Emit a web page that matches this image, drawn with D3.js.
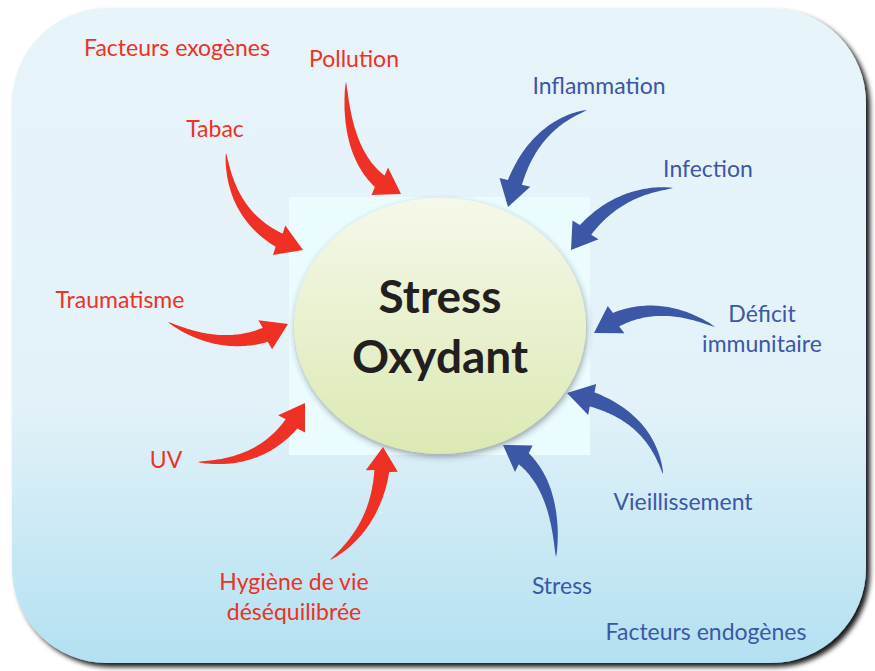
<!DOCTYPE html>
<html>
<head>
<meta charset="utf-8">
<script src="https://cdn.jsdelivr.net/npm/d3@7"></script>
<style>
  body { margin: 0; background: #fff; }
  svg { display: block; }
  text { font-family: Lato, "Open Sans", sans-serif; }
</style>
</head>
<body>
<svg width="875" height="671"></svg>
<script>
// factor names, grouped as in the figure
const exogenes = ["Pollution", "Tabac", "Traumatisme", "UV", "Hygiène de vie\ndéséquilibrée"];
const endogenes = ["Inflammation", "Infection", "Déficit\nimmunitaire", "Vieillissement", "Stress"];
const groupTitles = ["Facteurs exogènes", "Facteurs endogènes"];
const centerTitle = ["Stress", "Oxydant"];

const RED = "#ee3124", BLUE = "#3b57a6";

// layout: label anchor, then arrow tail / control / tip
const layout = {
  "Pollution":     {lx: 354, ly: 67, tail: [346, 82], ctrl: [346, 172], tip: [401, 194]},
  "Tabac":         {lx: 215, ly: 137, tail: [226, 153], ctrl: [232, 228], tip: [303, 250]},
  "Traumatisme":   {lx: 120, ly: 308, tail: [168, 322], ctrl: [232, 358], tip: [288, 324]},
  "UV":            {lx: 166, ly: 468, tail: [198, 462], ctrl: [272, 466], tip: [305, 403]},
  "Hygiène de vie\ndéséquilibrée": {lx: 294, ly: 590, tail: [330, 560], ctrl: [384, 522], tip: [383, 447]},
  "Inflammation":  {lx: 599, ly: 94, tail: [587, 110], ctrl: [525, 128], tip: [508, 207]},
  "Infection":     {lx: 708, ly: 177, tail: [673, 188], ctrl: [608, 190], tip: [571, 250]},
  "Déficit\nimmunitaire": {lx: 762, ly: 322, tail: [715, 327], ctrl: [648, 292], tip: [594, 333]},
  "Vieillissement": {lx: 683, ly: 510, tail: [663, 474], ctrl: [648, 408], tip: [567, 393]},
  "Stress":        {lx: 562, ly: 594, tail: [556, 557], ctrl: [557, 470], tip: [503, 445]}
};

const svg = d3.select("svg");
const defs = svg.append("defs");

const bg = defs.append("linearGradient").attr("id", "bg").attr("x1", 0).attr("y1", 0).attr("x2", 0).attr("y2", 1);
bg.append("stop").attr("offset", "0").attr("stop-color", "#e7f4fa");
bg.append("stop").attr("offset", "0.6").attr("stop-color", "#e3f2f9");
bg.append("stop").attr("offset", "1").attr("stop-color", "#b3e0f1");

const eg = defs.append("linearGradient").attr("id", "eg").attr("x1", 0).attr("y1", 0).attr("x2", 0).attr("y2", 1);
eg.append("stop").attr("offset", "0").attr("stop-color", "#f5f8ea");
eg.append("stop").attr("offset", "1").attr("stop-color", "#dce9b3");

const sh = defs.append("filter").attr("id", "shadow").attr("x", "-10%").attr("y", "-10%").attr("width", "125%").attr("height", "125%");
sh.append("feDropShadow").attr("dx", 4).attr("dy", 4).attr("stdDeviation", 2.5).attr("flood-color", "#000").attr("flood-opacity", 0.9);

const sh2 = defs.append("filter").attr("id", "shadow2").attr("x", "-10%").attr("y", "-10%").attr("width", "125%").attr("height", "125%");
sh2.append("feDropShadow").attr("dx", 1).attr("dy", 3).attr("stdDeviation", 3).attr("flood-color", "#334").attr("flood-opacity", 0.45);

// panel
svg.append("rect")
  .attr("x", 12).attr("y", 8).attr("width", 854).attr("height", 655)
  .attr("rx", 95).attr("ry", 95)
  .attr("fill", "url(#bg)")
  .attr("filter", "url(#shadow)");

// pale square behind the ellipse
svg.append("rect")
  .attr("x", 289).attr("y", 197).attr("width", 301).attr("height", 258)
  .attr("fill", "#eafcfd");

svg.append("ellipse")
  .attr("cx", 440).attr("cy", 326).attr("rx", 146).attr("ry", 128)
  .attr("fill", "url(#eg)")
  .attr("filter", "url(#shadow2)");

svg.append("g").selectAll("text")
  .data(centerTitle)
  .join("text")
  .attr("x", 440)
  .attr("y", (d, i) => 313 + i * 60)
  .attr("text-anchor", "middle")
  .attr("font-size", 46)
  .attr("font-weight", 700)
  .attr("fill", "#231f20")
  .text(d => d);

// tapered curved arrow
function arrowPath(a) {
  const [p0, p1, p2] = [a.tail, a.ctrl, a.tip];
  const N = 60;
  const pts = d3.range(N + 1).map(i => {
    const t = i / N, u = 1 - t;
    return [u*u*p0[0] + 2*u*t*p1[0] + t*t*p2[0], u*u*p0[1] + 2*u*t*p1[1] + t*t*p2[1]];
  });
  const len = [0];
  for (let i = 1; i <= N; i++) len.push(len[i-1] + Math.hypot(pts[i][0]-pts[i-1][0], pts[i][1]-pts[i-1][1]));
  const L = len[N], headLen = 24, headW = 16, shaftW = 7.5;
  const stop = L - headLen;
  const left = [], right = [];
  let last = 0;
  for (let i = 0; i <= N && len[i] <= stop; i++) {
    const j = Math.min(i + 1, N), k = Math.max(i - 1, 0);
    let dx = pts[j][0] - pts[k][0], dy = pts[j][1] - pts[k][1];
    const m = Math.hypot(dx, dy); dx /= m; dy /= m;
    const w = shaftW * Math.pow(len[i] / stop, 0.7);
    left.push([pts[i][0] - dy * w, pts[i][1] + dx * w]);
    right.push([pts[i][0] + dy * w, pts[i][1] - dx * w]);
    last = i;
  }
  // head base direction
  const b = pts[last];
  let dx = p2[0] - b[0], dy = p2[1] - b[1];
  const m = Math.hypot(dx, dy); dx /= m; dy /= m;
  const hl = [b[0] - dy * headW, b[1] + dx * headW];
  const hr = [b[0] + dy * headW, b[1] - dx * headW];
  const poly = left.concat([hl, p2, hr], right.reverse());
  return "M" + poly.map(p => p[0].toFixed(1) + "," + p[1].toFixed(1)).join("L") + "Z";
}

const factors = exogenes.map(n => ({name: n, color: RED}))
  .concat(endogenes.map(n => ({name: n, color: BLUE})));

svg.append("g").selectAll("path")
  .data(factors)
  .join("path")
  .attr("d", d => arrowPath(layout[d.name]))
  .attr("fill", d => d.color);

svg.append("g").selectAll("text")
  .data(factors)
  .join("text")
  .attr("x", d => layout[d.name].lx)
  .attr("y", d => layout[d.name].ly)
  .attr("text-anchor", "middle")
  .attr("font-size", 23)
  .attr("fill", d => d.color)
  .each(function(d) {
    d3.select(this).selectAll("tspan")
      .data(d.name.split("\n"))
      .join("tspan")
      .attr("x", layout[d.name].lx)
      .attr("dy", (s, i) => i ? 30 : 0)
      .text(s => s);
  });

svg.append("g").selectAll("text")
  .data(groupTitles)
  .join("text")
  .attr("x", (d, i) => i ? 706 : 177)
  .attr("y", (d, i) => i ? 640 : 56)
  .attr("text-anchor", "middle")
  .attr("font-size", 23)
  .attr("fill", (d, i) => i ? BLUE : RED)
  .text(d => d);
</script>
</body>
</html>
